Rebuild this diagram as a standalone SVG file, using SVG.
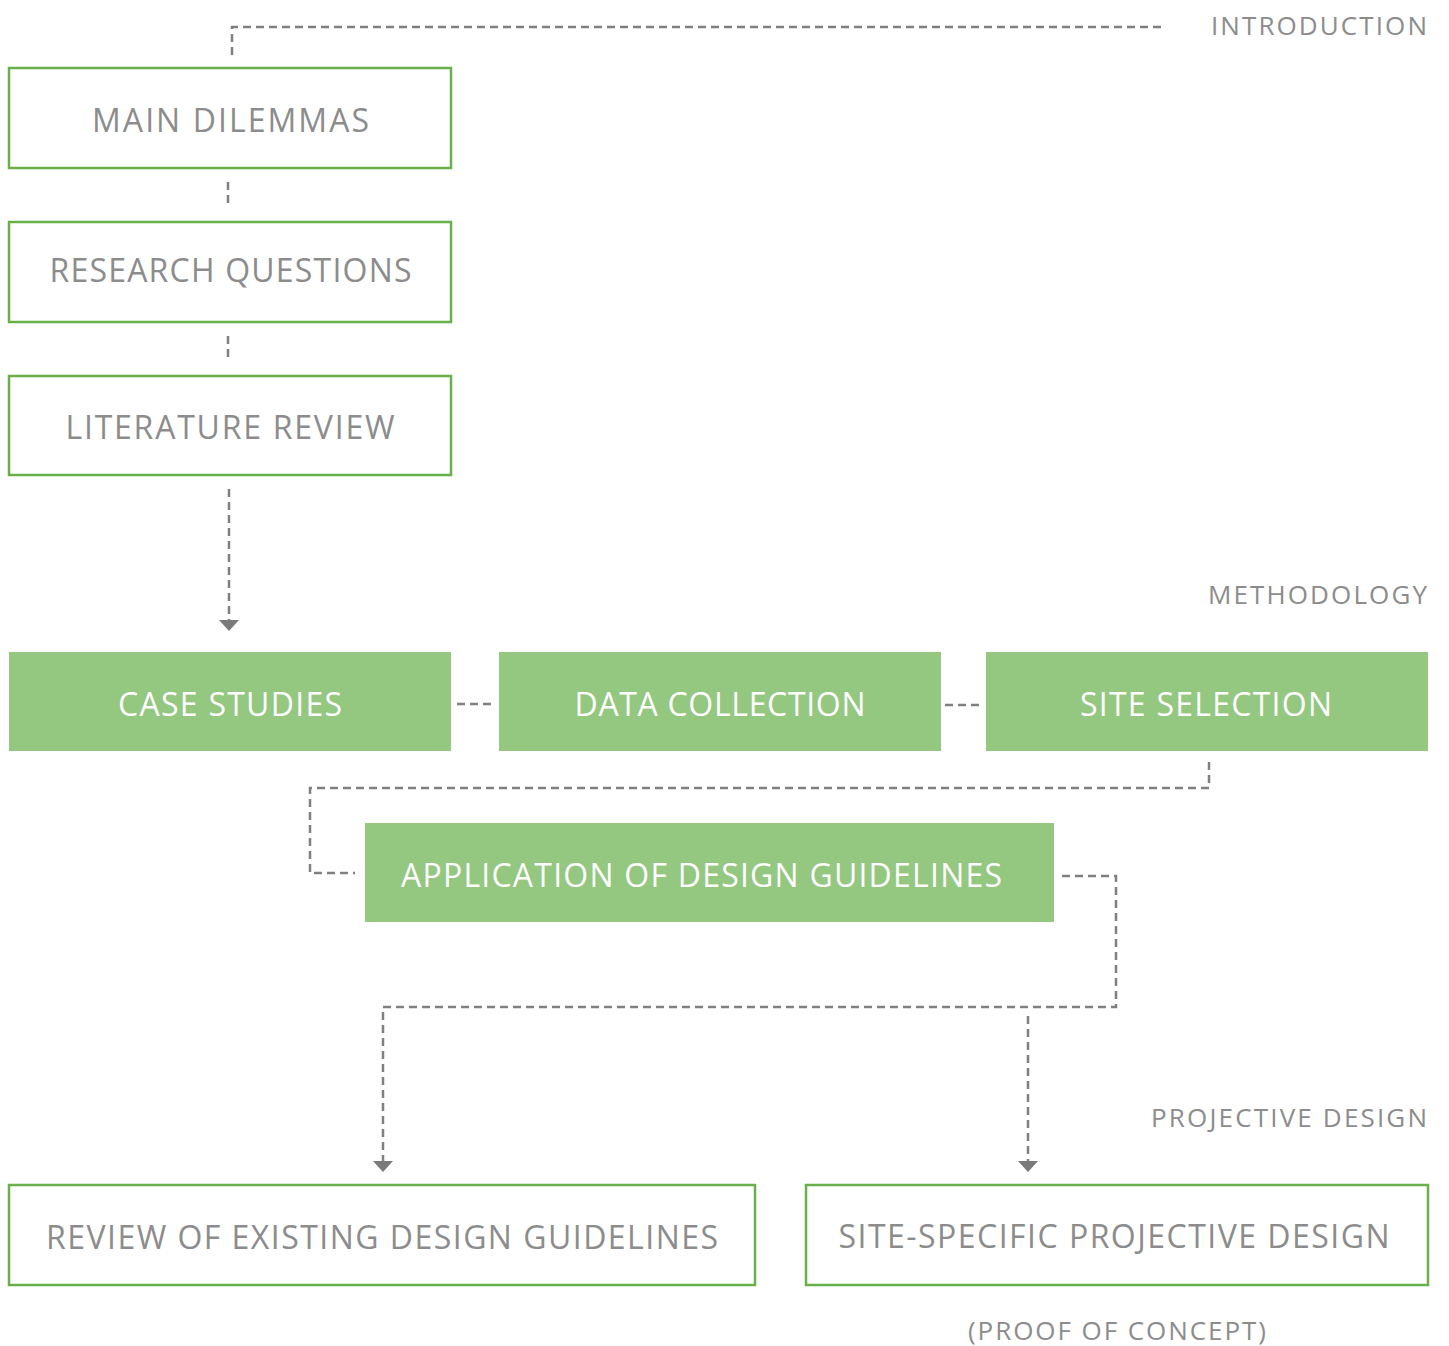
<svg xmlns="http://www.w3.org/2000/svg" width="1449" height="1346" viewBox="0 0 1449 1346">
<style>
.ob{fill:#ffffff;stroke:#6ab04a;stroke-width:2.5}
.fb{fill:#94c77f;stroke:none}
.gt{font-family:"Open Sans","Liberation Sans",sans-serif;font-size:32px;fill:#8c8c8c;text-anchor:middle}
.wt{font-family:"Open Sans","Liberation Sans",sans-serif;font-size:32px;fill:#ffffff;text-anchor:middle}
.lab{font-family:"Open Sans","Liberation Sans",sans-serif;font-size:26px;fill:#8c8c8c;text-anchor:end}
.c{fill:none;stroke:#808080;stroke-width:2.5;stroke-dasharray:8 5}
</style>
<defs>
<marker id="arr" viewBox="0 0 20 12" refX="10" refY="11" markerWidth="20" markerHeight="12" markerUnits="userSpaceOnUse" orient="auto-start-reverse">
<path d="M0,0 L20,0 L10,11 Z" fill="#7a7a7a"/>
</marker>
</defs>
<rect width="1449" height="1346" fill="#ffffff"/>
<g id="labels">
<text class="lab" x="1427" y="35" textLength="216">INTRODUCTION</text>
<text class="lab" x="1427" y="604" textLength="219">METHODOLOGY</text>
<text class="lab" x="1427" y="1127" textLength="276">PROJECTIVE DESIGN</text>
<text class="lab" x="1266" y="1340" textLength="298">(PROOF OF CONCEPT)</text>
</g>
<g id="connectors">
<path class="c" d="M232,55 V27 H1165"/>
<path class="c" d="M228,182 V208"/>
<path class="c" d="M228,336 V362"/>
<path class="c" d="M229,489 V620"/>
<path d="M219,620 L239,620 L229,631 Z" fill="#7a7a7a"/>
<path class="c" d="M457,704 H493"/>
<path class="c" d="M945,705 H981"/>
<path class="c" d="M1209,762 V788 H310 V873 H355"/>
<path class="c" d="M1062,876 H1116 V1007 H383 V1161"/>
<path d="M373,1161 L393,1161 L383,1172 Z" fill="#7a7a7a"/>
<path class="c" d="M1028,1016 V1161"/>
<path d="M1018,1161 L1038,1161 L1028,1172 Z" fill="#7a7a7a"/>
</g>
<g id="main-dilemmas">
<rect class="ob" x="9" y="68" width="442" height="100"/>
<text class="gt" x="230.5" y="132" textLength="277">MAIN DILEMMAS</text>
</g>
<g id="research-questions">
<rect class="ob" x="9" y="222" width="442" height="100"/>
<text class="gt" x="230.5" y="282" textLength="362">RESEARCH QUESTIONS</text>
</g>
<g id="literature-review">
<rect class="ob" x="9" y="376" width="442" height="99"/>
<text class="gt" x="230" y="439" textLength="329">LITERATURE REVIEW</text>
</g>
<g id="case-studies">
<rect class="fb" x="9" y="652" width="442" height="99"/>
<text class="wt" x="230" y="716" textLength="224">CASE STUDIES</text>
</g>
<g id="data-collection">
<rect class="fb" x="499" y="652" width="442" height="99"/>
<text class="wt" x="720" y="716" textLength="291">DATA COLLECTION</text>
</g>
<g id="site-selection">
<rect class="fb" x="986" y="652" width="442" height="99"/>
<text class="wt" x="1206" y="716" textLength="252">SITE SELECTION</text>
</g>
<g id="application">
<rect class="fb" x="365" y="823" width="689" height="99"/>
<text class="wt" x="701.5" y="887" textLength="601">APPLICATION OF DESIGN GUIDELINES</text>
</g>
<g id="review-existing">
<rect class="ob" x="9" y="1185" width="746" height="100"/>
<text class="gt" x="382" y="1249" textLength="672">REVIEW OF EXISTING DESIGN GUIDELINES</text>
</g>
<g id="site-specific">
<rect class="ob" x="806" y="1185" width="622" height="100"/>
<text class="gt" x="1114" y="1248" textLength="551">SITE-SPECIFIC PROJECTIVE DESIGN</text>
</g>
</svg>
